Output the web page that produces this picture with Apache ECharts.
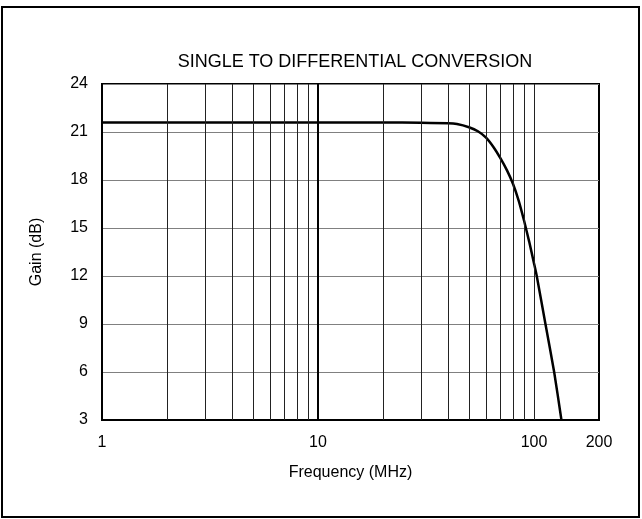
<!DOCTYPE html>
<html>
<head>
<meta charset="utf-8">
<script src="https://cdn.jsdelivr.net/npm/echarts@6/dist/echarts.min.js"></script>
<style>
  html, body { margin: 0; padding: 0; background: #fff; }
  #chart { width: 642px; height: 519px; }
</style>
</head>
<body>
<div id="chart"></div>
<script>
// gain vs frequency
const freqMHz = [1, 2, 5, 10, 20, 30, 40, 44, 50, 55, 60, 65, 70, 75, 80, 85, 90, 95, 100, 103, 113, 124, 134];
const gainDb = [21.6, 21.6, 21.6, 21.6, 21.6, 21.58, 21.55, 21.5, 21.3, 21.05, 20.65, 20.05, 19.35, 18.6, 17.75, 16.7, 15.45, 14.15, 12.8, 12.0, 9.0, 6.0, 3.0];

const xLabels = [1, 10, 100, 200];
const minorGrid = [2, 3, 4, 5, 6, 7, 8, 9, 20, 30, 40, 50, 60, 70, 80, 90, 100];
const majorGrid = [10];

const font = "'Liberation Sans', Arial, sans-serif";

let chart = echarts.init(document.getElementById("chart"));
chart.setOption({
  animation: false,
  title: {
    text: "SINGLE TO DIFFERENTIAL CONVERSION",
    left: 350,
    textAlign: "center",
    top: 48,
    textStyle: { fontFamily: font, fontSize: 18, fontWeight: "normal", color: "#000" },
  },
  graphic: [
    {
      type: "rect",
      shape: { x: 2, y: 7, width: 637, height: 510 },
      style: { fill: "none", stroke: "#000", lineWidth: 2 },
      silent: true,
    },
  ],
  grid: {
    left: 102,
    right: 43,
    top: 84,
    bottom: 99,
    show: true,
    borderColor: "#000",
    borderWidth: 2,
    backgroundColor: "transparent",
  },
  xAxis: {
    type: "log",
    logBase: 10,
    min: 1,
    max: 200,
    name: "Frequency (MHz)",
    nameLocation: "middle",
    nameGap: 45,
    nameTextStyle: { fontFamily: font, fontSize: 16, color: "#000" },
    axisLine: { show: true, lineStyle: { color: "#000", width: 2 } },
    axisTick: { show: false },
    splitLine: { show: false },
    axisLabel: {
      customValues: xLabels,
      margin: 15,
      fontFamily: font,
      fontSize: 16,
      color: "#000",
      formatter: (v) => String(Math.round(v)),
    },
  },
  yAxis: {
    type: "value",
    min: 3,
    max: 24,
    interval: 3,
    name: "Gain (dB)",
    nameLocation: "middle",
    nameGap: 57,
    nameTextStyle: { fontFamily: font, fontSize: 16, color: "#000" },
    axisLine: { show: true, lineStyle: { color: "#000", width: 2 } },
    axisTick: { show: false },
    axisLabel: { margin: 14, fontFamily: font, fontSize: 16, color: "#000" },
    splitLine: { show: true, lineStyle: { color: "#808080", width: 1 } },
  },
  series: [
    {
      // vertical decade grid
      type: "line",
      data: [],
      z: 1,
      silent: true,
      markLine: {
        silent: true,
        symbol: "none",
        label: { show: false },
        animation: false,
        data: minorGrid
          .map((f) => ({ xAxis: f, lineStyle: { color: "#222", width: 1, type: "solid" } }))
          .concat(majorGrid.map((f) => ({ xAxis: f, lineStyle: { color: "#000", width: 2, type: "solid" } }))),
      },
    },
    {
      name: "Gain",
      type: "line",
      z: 3,
      smooth: 0.2,
      symbol: "none",
      lineStyle: { color: "#000", width: 2.5 },
      data: freqMHz.map((f, i) => [f, gainDb[i]]),
    },
  ],
});
</script>
</body>
</html>
